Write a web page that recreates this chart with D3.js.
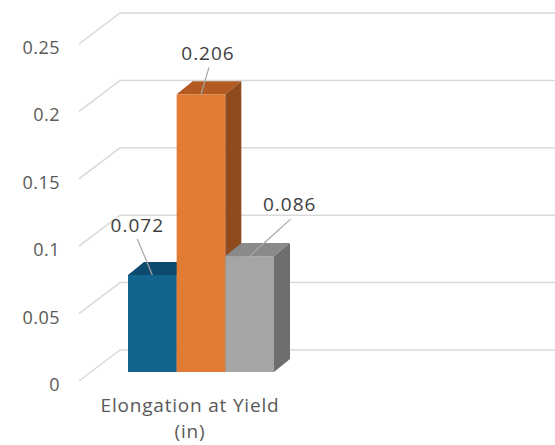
<!DOCTYPE html>
<html>
<head>
<meta charset="utf-8">
<script src="https://cdn.jsdelivr.net/npm/d3@7/dist/d3.min.js"></script>
<style>
  html, body { margin: 0; padding: 0; background: #fff; }
  svg { display: block; }
  text { font-family: "Open Sans", "Lato", sans-serif; }
</style>
</head>
<body>
<script>
// Chart data
const category = ["Elongation at Yield", "(in)"];
const series = ["A", "B", "C"];
const values = [0.072, 0.206, 0.086];
const valueLabels = ["0.072", "0.206", "0.086"];
const tickValues = [0, 0.05, 0.1, 0.15, 0.2, 0.25];
const tickLabels = ["0", "0.05", "0.1", "0.15", "0.2", "0.25"];

// Face colours per series: front, top, side
const frontColors = ["#13638f", "#e27b33", "#a5a5a5"];
const topColors = ["#0c4a6e", "#b25a22", "#8a8a8a"];
const sideColors = ["#0a3d5c", "#8f4a1e", "#6e6e6e"];

const W = 555, H = 445;
const svg = d3.select("body").append("svg").attr("width", W).attr("height", H);

// Back wall value scale
const y = d3.scaleLinear().domain([0, 0.25]).range([350, 13]);
// Oblique offset from back wall to front edge of side wall
const wallDX = -41, wallDY = 31;
const backLeft = 120;

// Gridlines: side wall diagonal + back wall horizontal
const grid = svg.append("g");
tickValues.forEach(v => {
  const yb = y(v);
  grid.append("path")
    .attr("d", `M${backLeft + wallDX},${yb + wallDY}L${backLeft},${yb}L${W},${yb}`)
    .attr("fill", "none")
    .attr("stroke", "#d9d9d9")
    .attr("stroke-width", 1.5);
});

// Tick labels on the front edge of the side wall
svg.append("g").selectAll("text").data(tickValues).join("text")
  .attr("x", 60)
  .attr("y", v => y(v) + wallDY + 3)
  .attr("text-anchor", "end")
  .attr("dominant-baseline", "central")
  .attr("fill", "#595959")
  .attr("font-size", 18)
  .attr("letter-spacing", 0.5)
  .text((v, i) => tickLabels[i]);

// Bars sit slightly forward of the back wall
const barDY = 22;
const yBar = v => y(v) + barDY;
const x = d3.scaleBand().domain(series).range([128, 274]).padding(0);
const depthDX = 16, depthDY = -13;

const bars = svg.append("g");
series.forEach((s, i) => {
  const x0 = x(s), x1 = x0 + x.bandwidth();
  const yt = yBar(values[i]), yb = yBar(0);
  // front face
  bars.append("rect")
    .attr("x", x0).attr("y", yt)
    .attr("width", x.bandwidth()).attr("height", yb - yt)
    .attr("fill", frontColors[i]);
  // top face
  bars.append("path")
    .attr("d", `M${x0},${yt}L${x0 + depthDX},${yt + depthDY}L${x1 + depthDX},${yt + depthDY}L${x1},${yt}Z`)
    .attr("fill", topColors[i]);
  // side face
  bars.append("path")
    .attr("d", `M${x1},${yt}L${x1 + depthDX},${yt + depthDY}L${x1 + depthDX},${yb + depthDY}L${x1},${yb}Z`)
    .attr("fill", sideColors[i]);
});

// Data labels with leader lines to the top of each bar
const labelOffset = [[-15, -50], [7, -41], [40, -52]];
const leaderStart = [[-15, -36], [8, -27], [41, -37]];
series.forEach((s, i) => {
  const cx = x(s) + x.bandwidth() / 2;
  const yt = yBar(values[i]);
  bars.append("line")
    .attr("x1", cx + leaderStart[i][0]).attr("y1", yt + leaderStart[i][1])
    .attr("x2", cx).attr("y2", yt)
    .attr("stroke", "#a6a6a6").attr("stroke-width", 1.2);
  bars.append("text")
    .attr("x", cx + labelOffset[i][0])
    .attr("y", yt + labelOffset[i][1])
    .attr("text-anchor", "middle")
    .attr("dominant-baseline", "central")
    .attr("fill", "#404040")
    .attr("font-size", 19)
    .attr("letter-spacing", 1)
    .text(valueLabels[i]);
});

// Category label
svg.append("g").selectAll("text").data(category).join("text")
  .attr("x", 190)
  .attr("y", (d, i) => 405 + i * 26)
  .attr("text-anchor", "middle")
  .attr("dominant-baseline", "central")
  .attr("fill", "#595959")
  .attr("font-size", 19)
  .attr("letter-spacing", 0.8)
  .text(d => d);
</script>
</body>
</html>
